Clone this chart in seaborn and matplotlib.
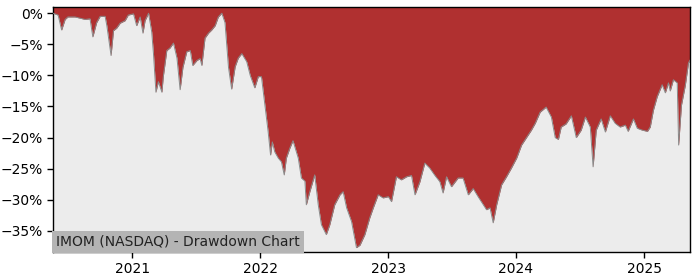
import matplotlib
matplotlib.use("Agg")
import matplotlib.pyplot as plt
import matplotlib.dates as mdates
from matplotlib.ticker import FuncFormatter
import seaborn as sns
import pandas as pd

ticker_label = "IMOM (NASDAQ) - Drawdown Chart"

dates = [
    "2020-05-21", "2020-06-04", "2020-06-14", "2020-06-24", "2020-07-02", "2020-07-22",
    "2020-08-06", "2020-08-20", "2020-09-03", "2020-09-11", "2020-09-22", "2020-10-02",
    "2020-10-16", "2020-10-21", "2020-11-02", "2020-11-09", "2020-11-18", "2020-11-28",
    "2020-12-12", "2020-12-21", "2021-01-05", "2021-01-14", "2021-01-24", "2021-02-01",
    "2021-02-07", "2021-02-17", "2021-02-26", "2021-03-03", "2021-03-10", "2021-03-17",
    "2021-03-27", "2021-03-31", "2021-04-10", "2021-04-19", "2021-04-29", "2021-05-09",
    "2021-05-18", "2021-05-26", "2021-06-06", "2021-06-16", "2021-06-23", "2021-07-05",
    "2021-07-14", "2021-07-19", "2021-07-28", "2021-08-07", "2021-08-16", "2021-08-26",
    "2021-09-04", "2021-09-14", "2021-09-23", "2021-10-03", "2021-10-12", "2021-10-22",
    "2021-10-31", "2021-11-10", "2021-11-24", "2021-12-04", "2021-12-17", "2021-12-27",
    "2022-01-05", "2022-01-15", "2022-01-24", "2022-01-31", "2022-02-05", "2022-02-12",
    "2022-02-22", "2022-03-03", "2022-03-11", "2022-03-17", "2022-03-27", "2022-04-05",
    "2022-04-20", "2022-04-29", "2022-05-09", "2022-05-13", "2022-05-23", "2022-06-06",
    "2022-06-16", "2022-06-25", "2022-07-09", "2022-07-19", "2022-08-02", "2022-08-17",
    "2022-08-26", "2022-09-05", "2022-09-19", "2022-10-03", "2022-10-13", "2022-10-27",
    "2022-11-10", "2022-11-20", "2022-12-04", "2022-12-18", "2023-01-02", "2023-01-11",
    "2023-01-25", "2023-02-08", "2023-02-23", "2023-03-09", "2023-03-19", "2023-04-02",
    "2023-04-16", "2023-04-30", "2023-05-15", "2023-05-29", "2023-06-07", "2023-06-17",
    "2023-07-01", "2023-07-20", "2023-08-03", "2023-08-18", "2023-09-01", "2023-09-15",
    "2023-09-30", "2023-10-09", "2023-10-19", "2023-10-28", "2023-11-07", "2023-11-21",
    "2023-12-05", "2023-12-19", "2024-01-03", "2024-01-17", "2024-01-31", "2024-02-14",
    "2024-02-25", "2024-03-10", "2024-03-27", "2024-04-11", "2024-04-22", "2024-05-01",
    "2024-05-09", "2024-05-23", "2024-06-07", "2024-06-21", "2024-07-05", "2024-07-17",
    "2024-07-31", "2024-08-08", "2024-08-17", "2024-08-31", "2024-09-12", "2024-09-26",
    "2024-10-10", "2024-10-24", "2024-11-08", "2024-11-16", "2024-12-01", "2024-12-12",
    "2024-12-26", "2025-01-10", "2025-01-18", "2025-01-27", "2025-02-07", "2025-02-21",
    "2025-03-02", "2025-03-11", "2025-03-16", "2025-03-25", "2025-04-05", "2025-04-09",
    "2025-04-17", "2025-04-28", "2025-05-07", "2025-05-12",
]

drawdown_pct = [
    0.0, -0.3, -2.7, -1.0, -0.6, -0.6,
    -0.8, -1.0, -0.9, -3.8, -1.5, -0.5,
    -0.5, -2.0, -6.8, -2.8, -2.4, -1.6,
    -1.2, -0.3, -0.1, -2.0, -0.6, -3.2,
    -1.2, 0.0, -3.0, -6.5, -12.7, -11.0,
    -12.7, -10.2, -6.0, -5.6, -4.8, -7.2,
    -12.3, -8.7, -6.2, -6.0, -8.4, -7.6,
    -7.3, -8.4, -4.0, -3.2, -2.7, -2.0,
    -0.6, 0.0, -1.5, -8.7, -12.2, -8.6,
    -7.2, -6.5, -7.8, -10.0, -12.0, -10.2,
    -10.2, -14.8, -19.0, -22.8, -20.7, -22.3,
    -23.3, -23.9, -26.0, -23.3, -21.7, -20.5,
    -23.3, -26.5, -27.0, -30.8, -28.7, -26.0,
    -30.8, -34.0, -35.6, -34.0, -30.8, -29.2,
    -28.7, -31.3, -33.5, -37.7, -37.3, -35.6,
    -32.9, -31.3, -29.2, -29.7, -29.5, -30.3,
    -26.3, -26.8, -26.3, -26.1, -29.2, -27.1,
    -24.1, -24.9, -26.1, -27.1, -28.9, -26.3,
    -27.9, -26.5, -26.5, -29.2, -28.2, -29.5,
    -30.8, -31.6, -31.3, -33.7, -30.8, -27.6,
    -26.3, -24.9, -23.3, -21.2, -20.0, -18.8,
    -17.7, -15.9, -15.1, -16.7, -20.0, -20.3,
    -18.3, -17.8, -16.5, -20.0, -18.8, -16.7,
    -18.3, -24.7, -18.8, -17.0, -19.1, -16.5,
    -17.7, -18.3, -18.0, -19.0, -17.0, -18.5,
    -18.8, -19.0, -18.3, -15.6, -13.4, -11.5,
    -12.8, -11.2, -12.5, -10.7, -11.2, -21.2,
    -14.8, -11.6, -8.0, -7.5,
]

ytick_values = [0, -5, -10, -15, -20, -25, -30, -35]

df = pd.DataFrame({"date": pd.to_datetime(dates), "dd": drawdown_pct})

sns.set_style("white")
plt.rcParams["font.family"] = ["DejaVu Sans"]

fig = plt.figure(figsize=(7, 2.8), dpi=100)
ax = fig.add_axes([0.076, 0.1, 0.91, 0.875])
ax.set_facecolor("#ececec")

y_top, y_bot = 1.0, -38.4
ax.fill_between(df["date"], df["dd"], y_top, color="#b03030", linewidth=0, zorder=2)
sns.lineplot(data=df, x="date", y="dd", ax=ax, color="#8a8a8a", linewidth=0.7, zorder=3)

ax.set_xlim(df["date"].iloc[0], df["date"].iloc[-1])
ax.set_ylim(y_bot, y_top)
ax.set_yticks(ytick_values)
ax.yaxis.set_major_formatter(FuncFormatter(lambda v, p: f"{v:.0f}%".replace("-", "\u2212")))
ax.xaxis.set_major_locator(mdates.YearLocator())
ax.xaxis.set_major_formatter(mdates.DateFormatter("%Y"))
ax.set_xlabel("")
ax.set_ylabel("")
ax.tick_params(axis="both", labelsize=10, length=4, width=1, colors="black", direction="out",
               left=True, bottom=True)
for s in ax.spines.values():
    s.set_color("black")
    s.set_linewidth(1)

ax.text(0.005, 0.042, ticker_label, transform=ax.transAxes, fontsize=10, color="#222222",
        ha="left", va="center", zorder=5,
        bbox=dict(facecolor="#b4b4b4", edgecolor="none", pad=3))

fig.savefig("out.png", dpi=100)
